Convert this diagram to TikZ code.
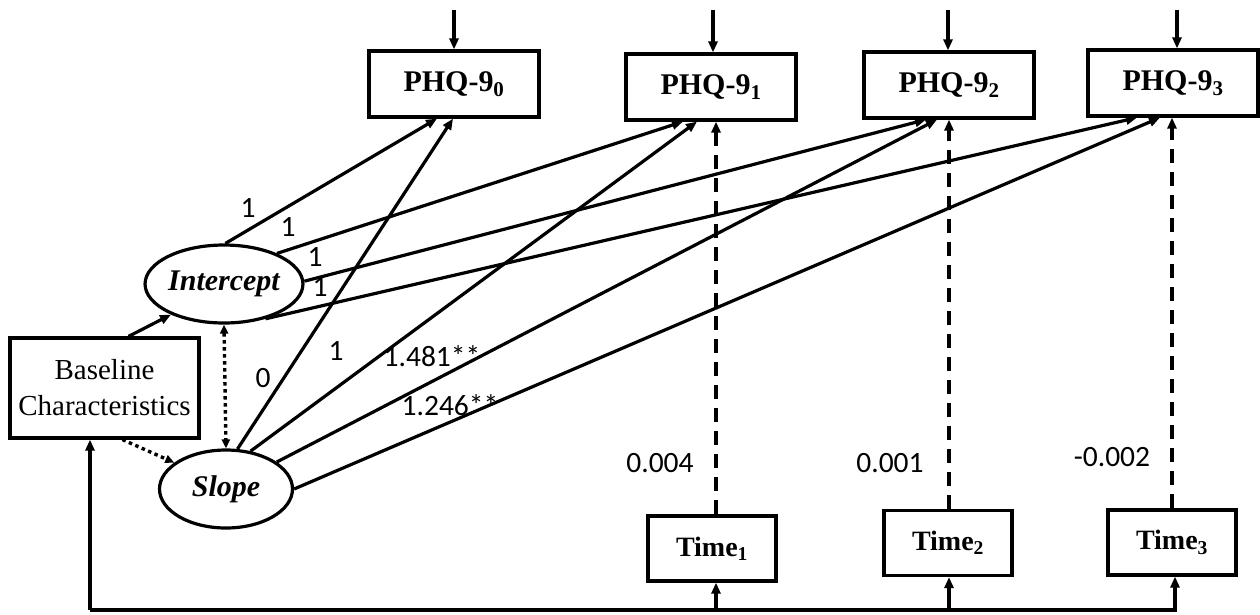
\documentclass[tikz,border=0pt]{standalone}
\usepackage{fontspec}
\setmainfont{Liberation Serif}
\newfontfamily\calib{Carlito}
\usetikzlibrary{arrows.meta,calc,shapes.geometric}
\begin{document}
\begin{tikzpicture}[x=1pt,y=-1pt,
  box/.style={draw,line width=3.2pt,inner sep=0pt,align=center},
  phq/.style={box,minimum width=170pt,minimum height=66pt,font=\fontsize{30}{34}\selectfont\bfseries},
  tbox/.style={box,minimum width=128pt,minimum height=65pt,font=\fontsize{28}{32}\selectfont\bfseries},
  lat/.style={draw,ellipse,line width=3.2pt,inner sep=0pt,minimum width=133pt,minimum height=78pt,font=\fontsize{30}{34}\selectfont\bfseries\itshape},
  arr/.style={line width=3.2pt,-{Triangle[length=11pt,width=9pt]}},
  dsh/.style={arr,dash pattern=on 14pt off 9pt},
  dot/.style={line width=3.4pt,dash pattern=on 3.5pt off 3.5pt,{Triangle[length=9pt,width=8pt]}-{Triangle[length=9pt,width=8pt]}},
  dotr/.style={line width=3.4pt,dash pattern=on 3.5pt off 3.5pt,-{Triangle[length=9pt,width=8pt]}},
  lbl/.style={inner sep=0pt,font=\calib\fontsize{29.5}{33}\selectfont},
]
\useasboundingbox (0,0) rectangle (1260,614);
% observed boxes
\node[phq] (p0) at (454,84) {PHQ-9\textsubscript{0}};
\node[phq] (p1) at (711,87) {PHQ-9\textsubscript{1}};
\node[phq] (p2) at (949,85) {PHQ-9\textsubscript{2}};
\node[phq] (p3) at (1173,83) {PHQ-9\textsubscript{3}};
% time boxes
\node[tbox] (t1) at (712,548.5) {Time\textsubscript{1}};
\node[tbox] (t2) at (948,543) {Time\textsubscript{2}};
\node[tbox] (t3) at (1172,542.5) {Time\textsubscript{3}};
% latent
\node[lat] (int) at (224,284) {Intercept};
\node[lat] (slo) at (226,489) {Slope};
% baseline
\node[box,minimum width=189pt,minimum height=100pt,font=\fontsize{29}{36}\selectfont] (base) at (104.5,388) {Baseline\\Characteristics};
% residual arrows
\coordinate (r0) at (454,10);
\coordinate (r1) at (713,10);
\coordinate (r2) at (948,10);
\coordinate (r3) at (1177,10);
\draw[arr] (r0) -- (r0 |- p0.north);
\draw[arr] (r1) -- (r1 |- p1.north);
\draw[arr] (r2) -- (r2 |- p2.north);
\draw[arr] (r3) -- (r3 |- p3.north);
% intercept loadings
\draw[arr] (int.88) -- ([xshift=-17pt]p0.south);
\draw[arr] (int.30) -- ([xshift=-28pt]p1.south);
\draw[arr] (int.2) -- ([xshift=-23pt]p2.south);
\draw[arr] (int.-40) -- ([xshift=-36pt]p3.south);
% slope loadings
\draw[arr] (slo.74) -- ([xshift=-1pt]p0.south);
\draw[arr] (slo.57) -- ([xshift=-14pt]p1.south);
\draw[arr] (slo.28) -- ([xshift=-12pt]p2.south);
\draw[arr] (slo.0) -- ([xshift=-13pt]p3.south);
% time effects
\draw[dsh] ([xshift=4pt]t1.north) -- ([xshift=4pt]t1.north |- p1.south);
\draw[dsh] ([xshift=1pt]t2.north) -- ([xshift=1pt]t2.north |- p2.south);
\draw[dsh] (t3.north) -- (t3.north |- p3.south);
% baseline paths
\draw[arr] ([xshift=24pt]base.north) -- (int.-150);
\draw[dotr] ([xshift=18pt]base.south) -- (slo.153);
\draw[dot] (int.south) -- (slo.north);
% bottom connector
\coordinate (c0) at (90,610);
\draw[arr] (c0) -- (c0 |- base.south);
\draw[arr] (c0) -| ([xshift=3pt]t3.south);
\draw[arr] ([xshift=4pt]t1.south |- c0) -- ([xshift=4pt]t1.south);
\draw[arr] ([xshift=1pt]t2.south |- c0) -- ([xshift=1pt]t2.south);
% labels
\node[lbl] (a1) at (248,208) {1};
\node[lbl] (a2) at (288,227) {1};
\node[lbl] (a3) at (315,257) {1};
\node[lbl] (a4) at (320,287) {1};
\node[lbl] (b0) at (263,378) {0};
\node[lbl] (b1) at (336,351) {1};
\node[lbl] (b2) at (432,356) {1.481**};
\node[lbl] (b3) at (450,405) {1.246**};
\node[lbl] (w1) at (660,463) {0.004};
\node[lbl] (w2) at (890,463) {0.001};
\node[lbl] (w3) at (1112,457) {-0.002};
\end{tikzpicture}
\end{document}
